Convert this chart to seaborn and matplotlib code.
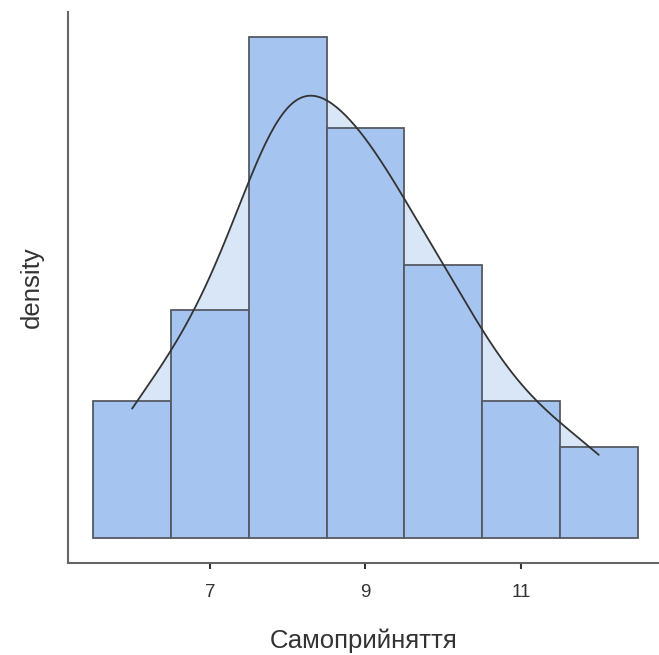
import numpy as np
import pandas as pd
import matplotlib
matplotlib.use("Agg")
import matplotlib.pyplot as plt
import seaborn as sns

# Data
values = [6, 7, 8, 9, 10, 11, 12]
counts = [3, 5, 11, 9, 6, 3, 2]
xticks = [7, 9, 11]
xlabel = "Самоприйняття"
ylabel = "density"

df = pd.DataFrame({"x": np.repeat(values, counts)})

sns.set_style("white")
plt.rcParams["font.family"] = ["Liberation Sans", "DejaVu Sans"]

fig = plt.figure(figsize=(6.59, 6.55), dpi=100)
ax = fig.add_axes([0.103, 0.1405, 0.897, 0.8415])

edges = np.arange(min(values) - 0.5, max(values) + 1.0, 1.0)

# KDE fill behind bars
sns.kdeplot(data=df, x="x", ax=ax, cut=0, bw_method=0.419, fill=True,
            color="#a5c4f0", alpha=0.42, linewidth=0, zorder=1)
sns.histplot(data=df, x="x", ax=ax, stat="density", bins=edges,
             color="#a5c4f0", alpha=1.0, edgecolor="#555a63", linewidth=1.3,
             zorder=2)
sns.kdeplot(data=df, x="x", ax=ax, cut=0, bw_method=0.419,
            color="#333333", linewidth=1.3, zorder=3)

ax.set_xlim(5.174, 12.775)
ax.set_ylim(-0.0141, 0.2964)
ax.set_xticks(xticks)
ax.set_xticklabels([str(t) for t in xticks])
ax.set_yticks([])
ax.set_xlabel(xlabel, fontsize=18.5, color="#333333", labelpad=20)
ax.set_ylabel(ylabel, fontsize=18.5, color="#333333", labelpad=17)
ax.tick_params(axis="x", length=4, width=1.5, color="#333333",
               labelsize=13.5, labelcolor="#333333", pad=11, bottom=True)

for s in ["top", "right"]:
    ax.spines[s].set_visible(False)
for s in ["left", "bottom"]:
    ax.spines[s].set_visible(True)
    ax.spines[s].set_color("#666666")
    ax.spines[s].set_linewidth(1.5)

fig.savefig("out.png", dpi=100, facecolor="white")
